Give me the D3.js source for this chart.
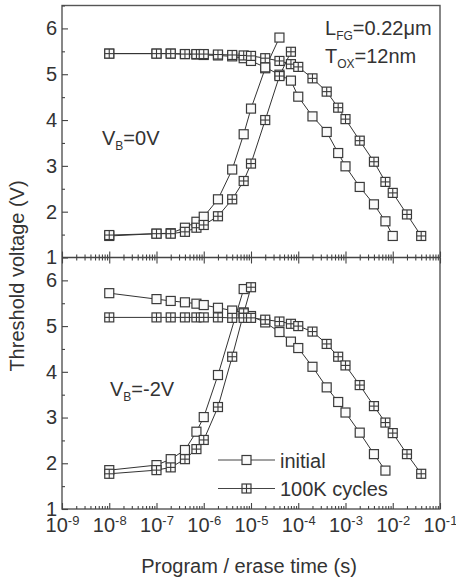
<!DOCTYPE html>
<html>
<head>
<meta charset="utf-8">
<script src="https://cdn.jsdelivr.net/npm/d3@7"></script>
<style>
body { margin: 0; background: #fff; }
text { font-family: "Liberation Sans", Arial, sans-serif; fill: #333; }
</style>
</head>
<body>
<script>
var width = 456;
var height = 578;

// [time (s), threshold voltage (V)]
// upper panel, VB = 0V
var topInitialProgram = [[1e-8,1.47],[1e-7,1.52],[2e-7,1.53],[4e-7,1.65],[7e-7,1.78],[1e-6,1.89],[2e-6,2.27],[4e-6,2.92],[7e-6,3.69],[1e-5,4.25],[2e-5,5.13],[4e-5,5.80]];
var topInitialErase = [[1e-8,5.45],[1e-7,5.45],[2e-7,5.45],[4e-7,5.44],[7e-7,5.43],[1e-6,5.42],[2e-6,5.41],[4e-6,5.39],[7e-6,5.35],[1e-5,5.29],[2e-5,5.15],[4e-5,4.99],[7e-5,4.86],[1e-4,4.51],[2e-4,4.08],[4e-4,3.74],[7e-4,3.28],[1e-3,2.99],[2e-3,2.54],[4e-3,2.16],[7e-3,1.79],[1e-2,1.47]];
var topCycledProgram = [[1e-8,1.49],[1e-7,1.52],[2e-7,1.52],[4e-7,1.56],[7e-7,1.65],[1e-6,1.71],[2e-6,1.90],[4e-6,2.27],[7e-6,2.67],[1e-5,3.05],[2e-5,4.00],[4e-5,4.96],[7e-5,5.49]];
var topCycledErase = [[1e-8,5.45],[1e-7,5.45],[2e-7,5.45],[4e-7,5.44],[7e-7,5.44],[1e-6,5.44],[2e-6,5.43],[4e-6,5.42],[7e-6,5.41],[1e-5,5.40],[2e-5,5.35],[4e-5,5.29],[7e-5,5.22],[1e-4,5.16],[2e-4,4.91],[4e-4,4.62],[7e-4,4.27],[1e-3,4.02],[2e-3,3.55],[4e-3,3.09],[7e-3,2.65],[1e-2,2.41],[2e-2,1.94],[4e-2,1.47]];

// lower panel, VB = -2V
var botInitialProgram = [[1e-8,1.85],[1e-7,1.96],[2e-7,2.09],[4e-7,2.29],[7e-7,2.69],[1e-6,3.01],[2e-6,3.93],[7e-6,5.81]];
var botInitialErase = [[1e-8,5.72],[1e-7,5.59],[2e-7,5.55],[4e-7,5.52],[7e-7,5.49],[1e-6,5.46],[2e-6,5.40],[4e-6,5.34],[7e-6,5.30],[1e-5,5.22],[2e-5,5.08],[4e-5,4.87],[7e-5,4.66],[1e-4,4.52],[2e-4,4.11],[4e-4,3.66],[7e-4,3.34],[1e-3,3.11],[2e-3,2.67],[4e-3,2.20],[7e-3,1.84]];
var botCycledProgram = [[1e-8,1.77],[1e-7,1.85],[2e-7,1.91],[4e-7,2.09],[7e-7,2.31],[1e-6,2.51],[2e-6,3.23],[4e-6,4.33],[7e-6,5.28],[1e-5,5.85]];
var botCycledErase = [[1e-8,5.19],[1e-7,5.19],[2e-7,5.19],[4e-7,5.19],[7e-7,5.19],[1e-6,5.19],[2e-6,5.19],[4e-6,5.18],[7e-6,5.18],[1e-5,5.18],[2e-5,5.14],[4e-5,5.10],[7e-5,5.05],[1e-4,5.00],[2e-4,4.88],[4e-4,4.61],[7e-4,4.33],[1e-3,4.14],[2e-3,3.71],[4e-3,3.25],[7e-3,2.89],[1e-2,2.66],[2e-2,2.20],[4e-2,1.77]];

var decadeTicks = [1e-9,1e-8,1e-7,1e-6,1e-5,1e-4,1e-3,1e-2,1e-1];
var decadeLabels = ["-9","-8","-7","-6","-5","-4","-3","-2","-1"];
var yMajor = [1,2,3,4,5,6];
var yMinor = [1.5,2.5,3.5,4.5,5.5,6.5];
var legendLabels = ["initial", "100K cycles"];

var plotLeft = 62, plotRight = 440, plotTop = 5.5, plotMid = 257.5, plotBottom = 509;

var svg = d3.select("body").append("svg")
    .attr("width", width)
    .attr("height", height);

var x = d3.scaleLog().domain([1e-9, 1e-1]).range([plotLeft, plotRight]);
var yTop = d3.scaleLinear().domain([1, 6.5]).range([plotMid, plotTop]);
var yBot = d3.scaleLinear().domain([1, 6.5]).range([plotBottom, plotMid]);

var minorX = x.ticks().filter(d => decadeTicks.indexOf(d) < 0);

// frame + divider
svg.append("rect")
    .attr("x", plotLeft).attr("y", plotTop)
    .attr("width", plotRight - plotLeft).attr("height", plotBottom - plotTop)
    .attr("fill", "none").attr("stroke", "#555").attr("stroke-width", 1.4);
svg.append("line")
    .attr("x1", plotLeft).attr("x2", plotRight)
    .attr("y1", plotMid).attr("y2", plotMid)
    .attr("stroke", "#444").attr("stroke-width", 1.4);

function styleAxis(g) {
    g.select(".domain").remove();
    g.selectAll(".tick line").attr("stroke", "#444").attr("stroke-width", 1.1);
    g.selectAll(".tick text").attr("font-size", 20).attr("fill", "#333").style("font-family", "Liberation Sans, Arial, sans-serif");
}

// bottom x axis, ticks inward
var xAxisG = svg.append("g").attr("transform", `translate(0,${plotBottom})`)
    .call(d3.axisBottom(x).tickValues(decadeTicks).tickSize(-6).tickPadding(9).tickFormat(() => ""))
    .call(styleAxis);
xAxisG.selectAll(".tick text").each(function(d, i) {
    var t = d3.select(this);
    t.text(null);
    t.append("tspan").text("10");
    t.append("tspan").attr("font-size", 13).attr("dy", -7).text(decadeLabels[i]);
});
svg.append("g").attr("transform", `translate(0,${plotBottom})`)
    .call(d3.axisBottom(x).tickValues(minorX).tickSize(-3).tickFormat(() => ""))
    .call(styleAxis);

// divider ticks on both sides
[6, -6].forEach(function(s) {
    svg.append("g").attr("transform", `translate(0,${plotMid})`)
        .call(d3.axisBottom(x).tickValues(decadeTicks).tickSize(s).tickFormat(() => ""))
        .call(styleAxis);
    svg.append("g").attr("transform", `translate(0,${plotMid})`)
        .call(d3.axisBottom(x).tickValues(minorX).tickSize(s / 2).tickFormat(() => ""))
        .call(styleAxis);
});

// left y axes
[yTop, yBot].forEach(function(y, k) {
    svg.append("g").attr("transform", `translate(${plotLeft},0)`)
        .call(d3.axisLeft(y).tickValues(yMajor).tickSize(-6).tickPadding(5).tickFormat(d3.format("d")))
        .call(styleAxis);
    svg.append("g").attr("transform", `translate(${plotLeft},0)`)
        .call(d3.axisLeft(y).tickValues(k === 0 ? yMinor : yMinor.slice(0, 5)).tickSize(-3).tickFormat(() => ""))
        .call(styleAxis);
});

// curves
var panels = [
    { y: yTop, series: [[topInitialProgram, false], [topInitialErase, false], [topCycledProgram, true], [topCycledErase, true]] },
    { y: yBot, series: [[botInitialProgram, false], [botInitialErase, false], [botCycledProgram, true], [botCycledErase, true]] }
];

function drawMarker(g, crossed) {
    var s = 4.5;
    g.append("rect")
        .attr("x", -s).attr("y", -s).attr("width", 2 * s).attr("height", 2 * s)
        .attr("fill", "#fafafa").attr("stroke", "#3a3a3a").attr("stroke-width", 1.2);
    if (crossed) {
        g.append("line").attr("x1", -s).attr("x2", s).attr("y1", 0).attr("y2", 0)
            .attr("stroke", "#3a3a3a").attr("stroke-width", 1.1);
        g.append("line").attr("x1", 0).attr("x2", 0).attr("y1", -s).attr("y2", s)
            .attr("stroke", "#3a3a3a").attr("stroke-width", 1.1);
    }
}

panels.forEach(function(p) {
    var line = d3.line().x(d => x(d[0])).y(d => p.y(d[1]));
    p.series.forEach(function(s) {
        svg.append("path")
            .datum(s[0])
            .attr("d", line)
            .attr("fill", "none")
            .attr("stroke", "#333")
            .attr("stroke-width", 1);
    });
    p.series.forEach(function(s) {
        svg.append("g").selectAll("g")
            .data(s[0])
            .join("g")
            .attr("transform", d => `translate(${x(d[0])},${p.y(d[1])})`)
            .each(function() { drawMarker(d3.select(this), s[1]); });
    });
});

// axis titles
svg.append("text")
    .attr("transform", "translate(24,276) rotate(-90)")
    .attr("text-anchor", "middle")
    .attr("font-size", 20)
    .text("Threshold voltage (V)");
svg.append("text")
    .attr("x", 249).attr("y", 573)
    .attr("text-anchor", "middle")
    .attr("font-size", 20)
    .text("Program / erase time (s)");

// annotations
function subText(xp, yp, main, sub, rest) {
    var t = svg.append("text").attr("x", xp).attr("y", yp).attr("font-size", 20);
    t.append("tspan").text(main);
    t.append("tspan").attr("font-size", 12).attr("dy", 5).text(sub);
    t.append("tspan").attr("dy", -5).text(rest);
}
subText(325, 35, "L", "FG", "=0.22\u03bcm");
subText(325, 63, "T", "OX", "=12nm");
subText(102, 145, "V", "B", "=0V");
subText(110, 396, "V", "B", "=-2V");

// legend
legendLabels.forEach(function(lab, i) {
    var ly = 460 + i * 28.5;
    svg.append("line")
        .attr("x1", 218).attr("x2", 275).attr("y1", ly).attr("y2", ly)
        .attr("stroke", "#444").attr("stroke-width", 1);
    drawMarker(svg.append("g").attr("transform", `translate(246.5,${ly})`), i === 1);
    svg.append("text")
        .attr("x", 280).attr("y", ly + 7.5)
        .attr("font-size", 20)
        .text(lab);
});
</script>
</body>
</html>
